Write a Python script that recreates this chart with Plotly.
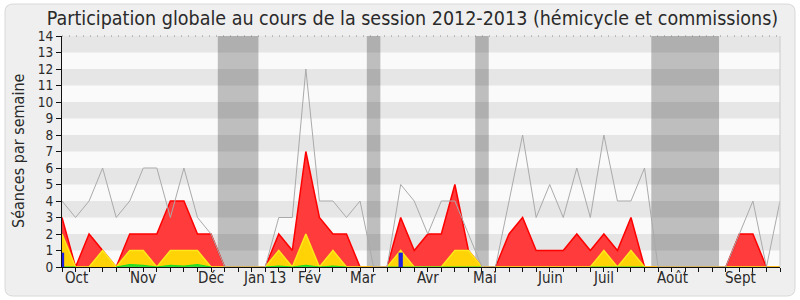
import plotly.graph_objects as go

# ---- data (weekly, session 2012-2013) ----
weeks = list(range(54))
grey_max = [4, 3, 4, 6, 3, 4, 6, 6, 3, 6, 3, 2, 0, 0, 0, 0, 3, 3, 12, 4, 4, 3, 4, 0, 0, 5, 4, 2, 4, 4,
            2, 0, 0, 4, 8, 3, 5, 3, 6, 3, 8, 4, 4, 6, 0, 0, 0, 0, 0, 0, 2, 4, 0, 4]
red_total = [3, 0, 2, 1, 0, 2, 2, 2, 4, 4, 2, 2, 0, 0, 0, 0, 2, 1, 7, 3, 2, 2, 0, 0, 0, 3, 1, 2, 2, 5,
             1, 0, 0, 2, 3, 1, 1, 1, 2, 1, 2, 1, 3, 0, 0, 0, 0, 0, 0, 0, 2, 2, 0, 0]
yellow_comm = [2, 0, 0, 1, 0, 1, 1, 0, 1, 1, 1, 0, 0, 0, 0, 0, 1, 0, 2, 0, 1, 0, 0, 0, 0, 1, 0, 0, 0, 1,
               1, 0, 0, 0, 0, 0, 0, 0, 0, 0, 1, 0, 1, 0, 0, 0, 0, 0, 0, 0, 0, 0, 0, 0]
N = None
green_int = [0, 0, N, N, 0, 0.15, 0.1, 0, 0.1, 0.05, 0.15, 0, N, N, N, 0, 0.05, 0, 0.1, 0, 0.05, 0, N, N,
             0, 0, 0, 0, 0, 0, 0, 0, N, N, N, N, N, N, N, 0, 0, 0, 0, 0, N, N, N, N, N, N, N, N, N, N]
blue_weeks = [0, 25]
blue_vals = [0.87, 0.87]
vacations = [(11.5, 14.5), (22.5, 23.5), (30.5, 31.5), (43.5, 48.5)]
month_labels = ["Oct", "Nov", "Déc", "Jan 13", "Fév", "Mar", "Avr", "Mai", "Juin", "Juil", "Août", "Sept"]
month_pos = [1.1, 6.0, 11.0, 14.95, 18.3, 22.2, 27.0, 31.2, 36.0, 40.0, 45.05, 50.1]
y_ticks = list(range(15))

FONT = "DejaVu Sans Condensed, Liberation Sans Narrow, DejaVu Sans, sans-serif"
W, H = 800, 300
L, R, T, B = 62, 20, 36, 33
pw, ph = W - L - R, H - T - B


def px_x(px):
    return (px - L) / pw


def px_y(py):
    return (H - B - py) / ph


fig = go.Figure()

fig.add_trace(go.Scatter(x=weeks, y=red_total, mode="lines", fill="tozeroy",
                         line=dict(color="#ff0000", width=1.5), fillcolor="#ff3b3b",
                         hoverinfo="skip", showlegend=False))
fig.add_trace(go.Scatter(x=weeks, y=yellow_comm, mode="lines", fill="tozeroy",
                         line=dict(color="#ffe81a", width=1.5), fillcolor="#ffd306",
                         hoverinfo="skip", showlegend=False))
fig.add_trace(go.Scatter(x=weeks, y=green_int, mode="lines", fill="tozeroy",
                         line=dict(color="#22dd22", width=1.2), fillcolor="#33dd33",
                         connectgaps=False, hoverinfo="skip", showlegend=False))
# blue weekly bars, drawn as thick vertical segments from the data
bx, by = [], []
for w, v in zip(blue_weeks, blue_vals):
    bx += [w, w, None]
    by += [0, v, None]
fig.add_trace(go.Scatter(x=bx, y=by, mode="lines", line=dict(color="#1f1fe0", width=4.3),
                         hoverinfo="skip", showlegend=False))
fig.add_trace(go.Scatter(x=weeks, y=grey_max, mode="lines",
                         line=dict(color="#aaaaaa", width=1),
                         hoverinfo="skip", showlegend=False))

shapes = []
# outer rounded frame
x0, y0, x1, y1, r = 5, 4, 795, 296, 8
path = (f"M {px_x(x0 + r)},{px_y(y0)} L {px_x(x1 - r)},{px_y(y0)} "
        f"Q {px_x(x1)},{px_y(y0)} {px_x(x1)},{px_y(y0 + r)} "
        f"L {px_x(x1)},{px_y(y1 - r)} Q {px_x(x1)},{px_y(y1)} {px_x(x1 - r)},{px_y(y1)} "
        f"L {px_x(x0 + r)},{px_y(y1)} Q {px_x(x0)},{px_y(y1)} {px_x(x0)},{px_y(y1 - r)} "
        f"L {px_x(x0)},{px_y(y0 + r)} Q {px_x(x0)},{px_y(y0)} {px_x(x0 + r)},{px_y(y0)} Z")
shapes.append(dict(type="path", xref="paper", yref="paper", path=path, fillcolor="#efefef",
                   line=dict(color="#d8d8d8", width=1), layer="below"))
# plot area background
shapes.append(dict(type="rect", xref="paper", yref="paper", x0=0, x1=1, y0=0, y1=1,
                   fillcolor="#fafafa", line=dict(width=0), layer="below"))
# horizontal stripes
for k in range(1, 14, 2):
    shapes.append(dict(type="rect", xref="paper", yref="y", x0=0, x1=1, y0=k, y1=k + 1,
                       fillcolor="#e6e6e6", line=dict(width=0), layer="below"))
# vacation bands
for a, b in vacations:
    shapes.append(dict(type="rect", xref="x", yref="paper", x0=a, x1=b, y0=0, y1=1,
                       fillcolor="rgba(0,0,0,0.24)", line=dict(width=0), layer="below"))
# dotted top line and right border
shapes.append(dict(type="line", xref="paper", yref="paper", x0=0, x1=1, y0=1, y1=1,
                   line=dict(color="#888888", width=1, dash="1px,6px"), layer="above"))
shapes.append(dict(type="line", xref="paper", yref="paper", x0=1, x1=1, y0=0, y1=1,
                   line=dict(color="#cccccc", width=1), layer="above"))

annotations = []
for lab, pos in zip(month_labels, month_pos):
    annotations.append(dict(text=lab, x=pos, y=px_y(278), xref="x", yref="paper",
                            showarrow=False, xanchor="center", yanchor="middle",
                            font=dict(family=FONT, size=15, color="#2a2a2a")))
annotations.append(dict(text="Séances par semaine", x=px_x(18), y=px_y(151), xref="paper", yref="paper",
                        textangle=-90, showarrow=False, xanchor="center", yanchor="middle",
                        font=dict(family=FONT, size=16, color="#2a2a2a")))

fig.update_layout(
    width=W, height=H,
    margin=dict(l=L, r=R, t=T, b=B, pad=0),
    paper_bgcolor="white", plot_bgcolor="#fafafa",
    title=dict(text="Participation globale au cours de la session 2012-2013 (hémicycle et commissions)",
               x=412.5 / W, y=1 - 18 / H, xref="container", yref="container",
               xanchor="center", yanchor="middle",
               font=dict(family=FONT, size=19.5, color="#2a2a2a")),
    shapes=shapes, annotations=annotations,
    xaxis=dict(range=[0, 53], showgrid=False, zeroline=False, showline=True, linecolor="#111111",
               linewidth=1, ticks="outside", ticklen=4, tickcolor="#111111", tickmode="linear",
               tick0=0, dtick=1, showticklabels=False, fixedrange=True),
    yaxis=dict(range=[0, 14], showgrid=False, zeroline=False, showline=True, linecolor="#111111",
               linewidth=1, ticks="outside", ticklen=5, tickcolor="#111111", tickmode="array",
               tickvals=y_ticks, ticktext=[str(v) for v in y_ticks],
               tickfont=dict(family=FONT, size=13.5, color="#2a2a2a"), fixedrange=True),
)

fig.write_html("out.html")
